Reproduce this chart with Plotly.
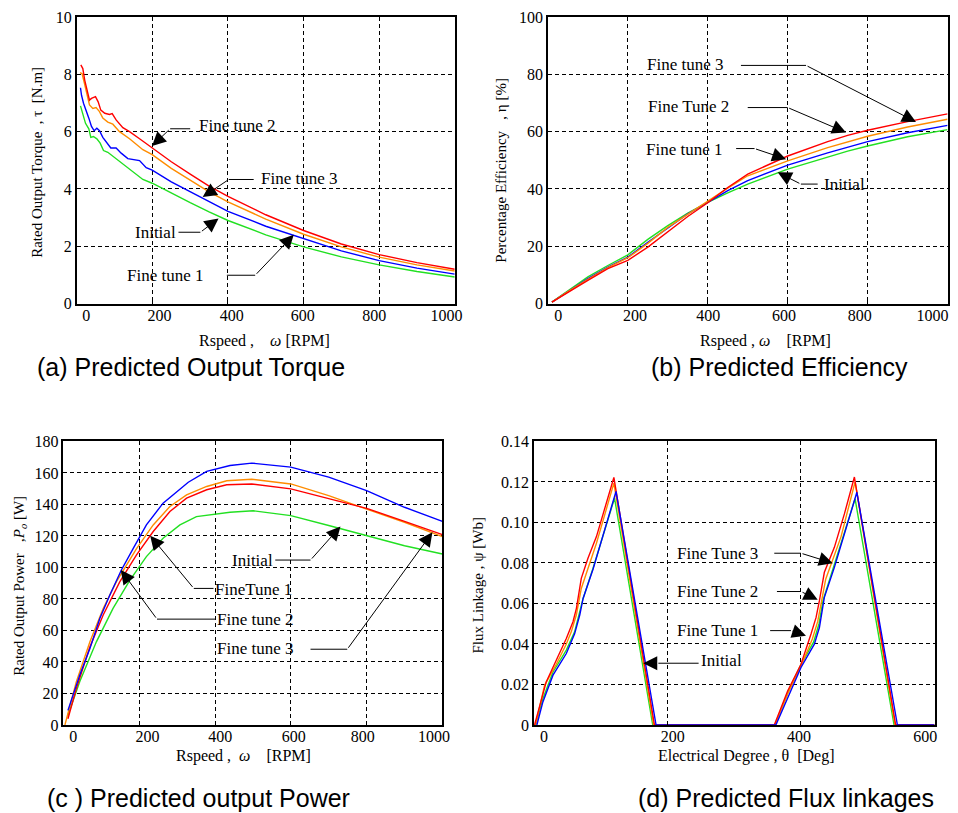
import plotly.graph_objects as go

# ---------------- (a) Predicted Output Torque [N.m] vs speed [RPM] ----------------
a_ft2_x = [10.6, 15.9, 21, 26.5, 33.5, 38.8, 49.4, 56.5, 63.5, 74, 86.5, 93.6, 104, 121.8, 139.5, 166, 199.5,
           250, 300, 350, 400, 500, 600, 700, 800, 900, 1000]
a_ft2_y = [8.33, 8.2, 7.79, 7.45, 7.1, 7.16, 7.22, 7.04, 6.75, 6.64, 6.6, 6.63, 6.41, 6.14, 6.0, 5.75, 5.43,
           4.95, 4.52, 4.1, 3.74, 3.1, 2.55, 2.08, 1.71, 1.43, 1.2]
a_ft3_x = [8.8, 14, 20.3, 26.5, 33.5, 42.4, 51, 60, 68.8, 82, 95.3, 113, 139.5, 174.8, 199.5,
           250, 300, 350, 400, 500, 600, 700, 800, 900, 1000]
a_ft3_y = [8.06, 8.02, 7.68, 7.27, 6.93, 6.81, 6.84, 6.7, 6.47, 6.33, 6.26, 6.0, 5.75, 5.37, 5.2,
           4.72, 4.3, 3.9, 3.55, 2.95, 2.42, 1.98, 1.62, 1.35, 1.14]
a_ft1_x = [9.7, 12.4, 17.7, 24.7, 31.8, 38.8, 46, 53, 60, 68.8, 79.4, 90, 104, 117.4, 135, 152.7, 166, 183.6, 199.5,
           250, 300, 350, 400, 500, 600, 700, 800, 900, 1000]
a_ft1_y = [7.53, 7.27, 6.99, 6.75, 6.47, 6.18, 6.03, 6.12, 6.03, 5.8, 5.6, 5.43, 5.43, 5.25, 5.06, 5.02, 4.99, 4.74, 4.66,
           4.25, 3.9, 3.55, 3.22, 2.7, 2.26, 1.84, 1.5, 1.24, 1.03]
a_ini_x = [9.7, 15.9, 23, 31.8, 37, 44, 53, 61.8, 70.6, 82, 95.3, 113, 139.5, 174.8, 199.5,
           250, 300, 350, 400, 500, 600, 700, 800, 900, 1000]
a_ini_y = [6.9, 6.58, 6.29, 6.1, 5.8, 5.83, 5.75, 5.6, 5.34, 5.28, 5.14, 4.97, 4.68, 4.33, 4.2,
           3.85, 3.52, 3.2, 2.9, 2.4, 1.98, 1.63, 1.35, 1.12, 0.93]

# ---------------- (b) Predicted Efficiency [%] vs speed [RPM] ----------------
b_x = [10, 50, 100, 150, 200, 250, 300, 350, 400, 450, 500, 600, 700, 750, 800, 900, 1000]
b_ft3_y = [0.5, 4.0, 8.1, 12.2, 15.1, 19.7, 24.9, 30.4, 35.2, 40.5, 45.2, 51.5, 56.5, 58.7, 60.5, 63.5, 66.2]
b_ft2_y = [0.5, 4.2, 8.5, 12.6, 16.0, 21.0, 26.6, 31.2, 35.6, 40.3, 44.6, 49.8, 54.4, 56.5, 58.4, 61.6, 64.3]
b_ft1_y = [0.5, 4.2, 8.7, 12.7, 16.2, 21.4, 26.3, 31.3, 35.3, 39.4, 42.9, 48.3, 52.6, 54.6, 56.5, 59.6, 62.2]
b_ini_y = [0.5, 4.4, 9.3, 13.3, 17.0, 22.4, 27.2, 31.6, 35.3, 38.6, 41.7, 46.9, 51.2, 53.2, 55.0, 58.2, 60.7]

# ---------------- (c) Predicted output Power [W] vs speed [RPM] ----------------
c_ft1_x = [12, 43, 70, 96, 122.6, 153, 184, 219, 263, 329.5, 378, 439.6, 497, 600, 700, 800, 900, 1000]
c_ft1_y = [9.3, 31.6, 48.5, 67.6, 82.5, 98.4, 112, 127, 140.8, 154.1, 161, 164.7, 166.2, 163.7, 157.3, 148.8, 138.2, 129.3]
c_ft3_x = [4, 34, 70, 105, 140, 193, 237, 281, 325, 378, 431, 497, 600, 700, 800, 900, 1000]
c_ft3_y = [0, 27.4, 52.8, 74, 91, 112, 127, 138.7, 146, 151.4, 155, 156, 153, 145.6, 137, 128.7, 119.6]
c_ft2_x = [12, 34, 70, 105, 149, 193, 237, 281, 325, 378, 431, 497, 600, 700, 800, 900, 1000]
c_ft2_y = [4, 23, 49.6, 69.8, 91, 108, 122.8, 135.5, 144, 149.3, 152.5, 153, 149.9, 143.5, 137.5, 129.2, 120.8]
c_ini_x = [12, 43, 87, 131, 175.5, 219, 263, 307.5, 351, 439.6, 501, 600, 700, 800, 900, 1000]
c_ini_y = [6.2, 27.4, 52.8, 74, 92, 106.9, 118.5, 127, 132.3, 135, 136, 132.9, 126.6, 120.2, 113.8, 108.5]

# ---------------- (d) Predicted Flux linkages [Wb] vs electrical degree ----------------
d_ft3_x = [1, 8.5, 18.5, 33.5, 48.6, 58.6, 63.7, 71, 81, 93.7, 106, 119.8, 180.6,
           360, 380, 400, 415, 422.6, 427.6, 435, 450, 465, 480, 541.8, 600]
d_ft3_y = [0, 0.0097, 0.0213, 0.032, 0.0427, 0.051, 0.0576, 0.0724, 0.0823, 0.093, 0.107, 0.1222, 0,
           0, 0.0168, 0.030, 0.0449, 0.0531, 0.0614, 0.0754, 0.0877, 0.1042, 0.1224, 0, 0]
d_ft2_x = [2.5, 16, 33.5, 48.6, 56, 63.6, 71, 93.7, 119.8, 179.4,
           361, 381, 400, 417, 425, 431, 437, 460, 481, 540.9, 600]
d_ft2_y = [0, 0.0196, 0.030, 0.040, 0.046, 0.0543, 0.0674, 0.0897, 0.1194, 0,
           0, 0.016, 0.029, 0.0425, 0.051, 0.061, 0.072, 0.093, 0.120, 0, 0]
d_ft1_x = [4.5, 13.5, 28.6, 48.6, 61, 68.7, 73.7, 88.7, 123, 183,
           362.4, 382.4, 400, 420, 427.6, 435, 450, 483.7, 544.4, 600]
d_ft1_y = [0, 0.0114, 0.0246, 0.0353, 0.045, 0.0543, 0.0625, 0.077, 0.1153, 0,
           0, 0.0152, 0.0284, 0.0399, 0.0481, 0.063, 0.0778, 0.1149, 0, 0]
d_ini_x = [2.5, 13.5, 28.6, 48.6, 61, 68.7, 73.7, 88.7, 120.8, 178,
           361, 381, 400, 419, 427, 433, 448, 481, 539.4, 600]
d_ini_y = [0, 0.013, 0.0262, 0.037, 0.046, 0.0559, 0.0625, 0.0775, 0.112, 0,
           0, 0.0165, 0.0298, 0.041, 0.050, 0.0615, 0.077, 0.1117, 0, 0]

# ---------------- ticks ----------------
speed_ticks = [0, 200, 400, 600, 800, 1000]
speed_ticktext = ["0", "200", "400", "600", "800", "1000"]
a_xlabel_at = [25, 219, 410, 598, 787, 978]
b_xlabel_at = [26, 218, 401, 591, 780, 962]
c_xlabel_at = [26, 222, 414, 608, 790, 978]
a_yticks = [0, 2, 4, 6, 8, 10]
b_yticks = [0, 20, 40, 60, 80, 100]
c_yticks = [0, 20, 40, 60, 80, 100, 120, 140, 160, 180]
d_xticks = [0, 200, 400, 600]
d_xticktext = ["0", "200", "400", "600"]
d_xlabel_at = [15, 208, 397, 586]
d_yticks = [0, 0.02, 0.04, 0.06, 0.08, 0.10, 0.12, 0.14]
d_yticktext = ["0", "0.02", "0.04", "0.06", "0.08", "0.10", "0.12", "0.14"]

# ---------------- figure ----------------
RED, ORANGE, BLUE, GREEN = "#ff0000", "#ff8c00", "#0000ff", "#22e022"
SERIF = "Liberation Serif"
SANS = "Liberation Sans"
NB = "\u00a0"
W, H = 958, 813
# the page is photographed slightly scaled/offset; map reference pixels to layout pixels
SX, OX, SY, OY = 0.99, 8.0, 0.977, 16.5


def qx(p):
    return (p - OX) / SX


def qy(p):
    return max(1.0, (p - OY) / SY)


def dom_x(p0, p1):
    return [qx(p0) / W, min(1.0, qx(p1) / W)]


def dom_y(ptop, pbot):
    return [1 - qy(pbot) / H, min(1.0, 1 - qy(ptop) / H)]


fig = go.Figure()


def add(x, y, color, ax):
    fig.add_trace(go.Scatter(x=x, y=y, mode="lines", line=dict(color=color, width=1.4),
                             xaxis="x" + ax, yaxis="y" + ax, showlegend=False, hoverinfo="skip"))


add(a_ini_x, a_ini_y, GREEN, "")
add(a_ft1_x, a_ft1_y, BLUE, "")
add(a_ft3_x, a_ft3_y, ORANGE, "")
add(a_ft2_x, a_ft2_y, RED, "")

add(b_x, b_ini_y, GREEN, "2")
add(b_x, b_ft1_y, BLUE, "2")
add(b_x, b_ft2_y, ORANGE, "2")
add(b_x, b_ft3_y, RED, "2")

add(c_ini_x, c_ini_y, GREEN, "3")
add(c_ft3_x, c_ft3_y, ORANGE, "3")
add(c_ft2_x, c_ft2_y, RED, "3")
add(c_ft1_x, c_ft1_y, BLUE, "3")

add(d_ini_x, d_ini_y, GREEN, "4")
add(d_ft2_x, d_ft2_y, ORANGE, "4")
add(d_ft3_x, d_ft3_y, RED, "4")
add(d_ft1_x, d_ft1_y, BLUE, "4")

# empty traces so the label-only overlay axes are drawn
for k, ya in (("5", "y"), ("6", "y2"), ("7", "y3"), ("8", "y4")):
    fig.add_trace(go.Scatter(x=[None], y=[None], xaxis="x" + k, yaxis=ya, showlegend=False,
                             hoverinfo="skip", mode="lines"))

tickfont = dict(family=SERIF, size=16, color="black")


def axis(domain, anchor, rng, ticks, ticktext=None, labels=True):
    d = dict(domain=domain, anchor=anchor, range=rng, tickvals=ticks, showline=True, mirror=True,
             linecolor="black", linewidth=1.5, showgrid=True, gridcolor="black", gridwidth=1,
             griddash="4px,3px", zeroline=False, ticks="inside", ticklen=4, tickcolor="black",
             tickfont=tickfont, showticklabels=labels)
    if ticktext:
        d["ticktext"] = ticktext
    return d


def label_axis(domain, anchor, over, rng, pos, text):
    return dict(domain=domain, anchor=anchor, overlaying=over, range=rng, tickvals=pos, ticktext=text,
                showline=False, showgrid=False, zeroline=False, ticks="", side="bottom",
                tickfont=tickfont)


XA, YA = dom_x(76.7, 454), dom_y(14, 303.5)
XB, YB = dom_x(547, 946), dom_y(14, 303.5)
XC, YC = dom_x(63.3, 441.7), dom_y(441, 724)
XD, YD = dom_x(533, 933), dom_y(441, 724)

fig.update_layout(
    width=W, height=H, margin=dict(l=0, r=0, t=0, b=0),
    paper_bgcolor="white", plot_bgcolor="white",
    xaxis=axis(XA, "y", [0, 1000], speed_ticks, labels=False),
    yaxis=axis(YA, "x", [0, 10], a_yticks),
    xaxis2=axis(XB, "y2", [0, 1000], speed_ticks, labels=False),
    yaxis2=axis(YB, "x2", [0, 100], b_yticks),
    xaxis3=axis(XC, "y3", [0, 1000], speed_ticks, labels=False),
    yaxis3=axis(YC, "x3", [0, 180], c_yticks),
    xaxis4=axis(XD, "y4", [0, 600], d_xticks, labels=False),
    yaxis4=axis(YD, "x4", [0, 0.14], d_yticks, d_yticktext),
    xaxis5=label_axis(XA, "y", "x", [0, 1000], a_xlabel_at, speed_ticktext),
    xaxis6=label_axis(XB, "y2", "x2", [0, 1000], b_xlabel_at, speed_ticktext),
    xaxis7=label_axis(XC, "y3", "x3", [0, 1000], c_xlabel_at, speed_ticktext),
    xaxis8=label_axis(XD, "y4", "x4", [0, 600], d_xlabel_at, d_xticktext),
)

annotations = []
shapes = []
cfont = dict(family=SERIF, size=17, color="black")

# callouts: (axis suffix, text, text x, text y, anchor, line start, elbow, arrow tip)
callouts = [
    ("", "Fine tune 2", 318, 6.2, "left", (300, 6.1), (247, 6.1), (199, 5.5)),
    ("", "Fine tune 3", 481, 4.35, "left", (468, 4.33), (402, 4.33), (333, 3.72)),
    ("", "Initial", 269, 2.49, "right", (269, 2.49), (327, 2.49), (375, 2.97)),
    ("", "Fine tune 1", 128, 0.99, "left", (397, 0.99), (472, 0.99), (574, 2.4)),
    ("2", "Fine tune 3", 242, 83.4, "left", (483, 83.1), (646, 83.1), (921, 63.4)),
    ("2", "Fine Tune 2", 246, 68.7, "left", (500, 68.4), (600, 68.4), (746, 59.7)),
    ("2", "Fine tune 1", 240, 53.9, "left", (471, 54.1), (517, 54.1), (596, 50.4)),
    ("2", "Initial", 687, 41.4, "left", (675, 41.7), (633, 41.7), (575, 45.8)),
    ("3", "Initial", 559, 104.7, "right", (559, 104.7), (652, 104.7), (731, 126)),
    ("3", "FineTune 1", 396, 85.9, "left", (396, 86.7), (344, 86.7), (229, 120.2)),
    ("3", "Fine tune 2", 401, 67.2, "left", (401, 67.2), (247, 67.2), (151.5, 98.4)),
    ("3", "Fine tune 3", 401, 48.8, "left", (652, 48.1), (749, 48.1), (973.6, 122.3)),
    ("4", "Fine Tune 3", 211.6, 0.0848, "left", (360, 0.0848), (400, 0.0848), (447.7, 0.0799)),
    ("4", "Fine Tune 2", 211.6, 0.0659, "left", (364, 0.0659), (400, 0.0659), (425, 0.0618)),
    ("4", "Fine Tune 1", 211.6, 0.0466, "left", (353.8, 0.0466), (385, 0.0466), (407.5, 0.0441)),
    ("4", "Initial", 246.7, 0.0318, "left", (246.7, 0.0305), (186.4, 0.0305), (163.8, 0.0305)),
]
for ax, txt, tx, ty, anc, ls, el, tip in callouts:
    xr, yr = "x" + ax, "y" + ax
    annotations.append(dict(x=tx, y=ty, xref=xr, yref=yr, text=txt, showarrow=False,
                            xanchor=anc, yanchor="middle", font=cfont))
    shapes.append(dict(type="line", xref=xr, yref=yr, x0=ls[0], y0=ls[1], x1=el[0], y1=el[1],
                       line=dict(color="black", width=1)))
    annotations.append(dict(x=tip[0], y=tip[1], xref=xr, yref=yr, ax=el[0], ay=el[1],
                            axref=xr, ayref=yr, text="", showarrow=True, arrowhead=2,
                            arrowsize=2.8, arrowwidth=1, arrowcolor="black", standoff=0))

tfont = dict(family=SERIF, size=15, color="black")
xtfont = dict(family=SERIF, size=16, color="black")
titles = [
    ("Rated Output Torque" + NB * 2 + ", τ" + NB * 2 + "[N.m]", 37, 163, -90, tfont),
    ("Percentage Efficiency" + NB * 3 + ", η [%]", 500, 170, -90, tfont),
    ("Rated Output Power" + NB * 3 + ",<i>P<sub>o</sub></i> [W]", 20, 585, -90, tfont),
    ("Flux Linkage , ψ [Wb]", 477, 585, -90, tfont),
    ("Rspeed ," + NB * 4 + "<i>ω</i> [RPM]", 264, 341, 0, xtfont),
    ("Rspeed , <i>ω</i>" + NB * 4 + "[RPM]", 764, 341, 0, xtfont),
    ("Rspeed , " + NB + "<i>ω</i>" + NB * 4 + "[RPM]", 243, 755, 0, xtfont),
    ("Electrical Degree , θ" + NB * 2 + "[Deg]", 745, 755, 0, xtfont),
]
for txt, px, py, ang, f in titles:
    annotations.append(dict(x=qx(px) / W, y=1 - qy(py) / H, xref="paper", yref="paper", text=txt,
                            showarrow=False, textangle=ang, xanchor="center", yanchor="middle",
                            font=f))

capfont = dict(family=SANS, size=25, color="black")
captions = [
    ("(a) Predicted Output Torque", 35, 367),
    ("(b) Predicted Efficiency", 648, 367),
    ("(c ) Predicted output Power", 45, 797),
    ("(d) Predicted Flux linkages", 635, 797),
]
for txt, px, py in captions:
    annotations.append(dict(x=qx(px) / W, y=1 - qy(py) / H, xref="paper", yref="paper", text=txt,
                            showarrow=False, xanchor="left", yanchor="middle", font=capfont))

fig.update_layout(annotations=annotations, shapes=shapes)
fig.write_html("out.html")
